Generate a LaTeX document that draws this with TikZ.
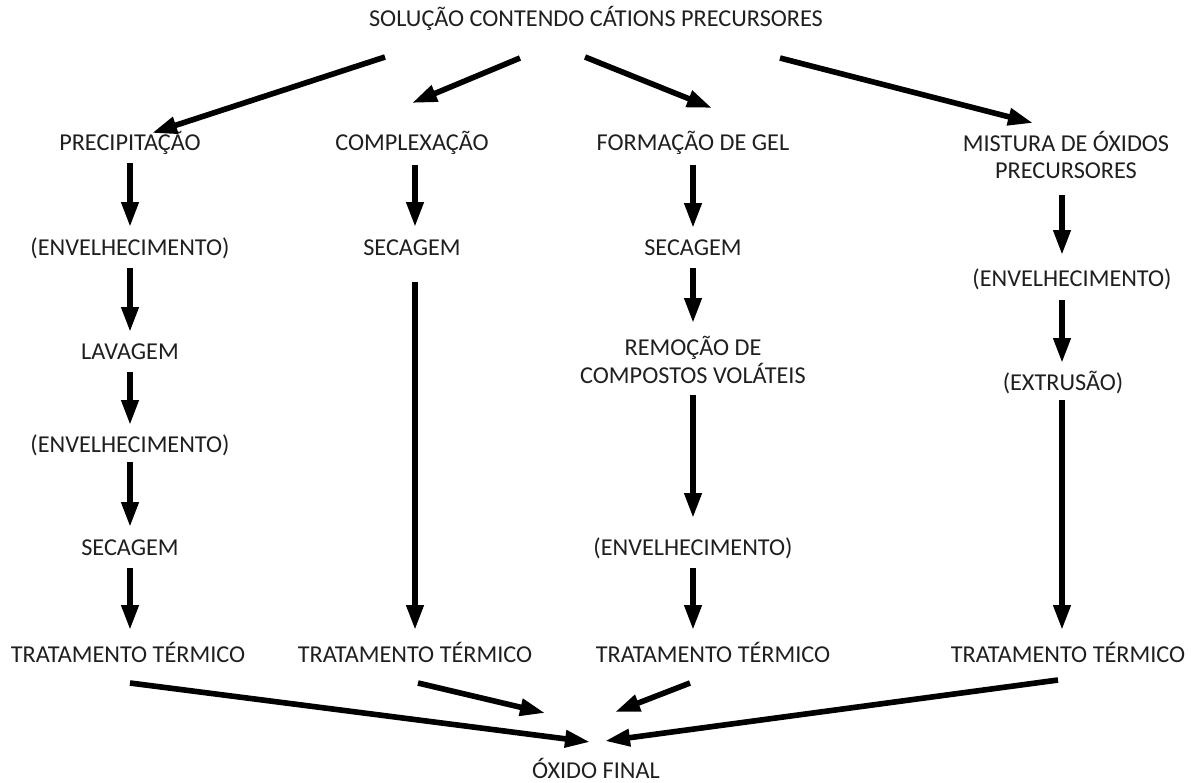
\documentclass[tikz,border=0pt]{standalone}
\usepackage{fontspec}
\setmainfont{Carlito}
\usetikzlibrary{arrows.meta, calc}

\begin{document}
\begin{tikzpicture}[
    x=0.02cm, y=-0.02cm,
    txt/.style={font=\fontsize{13.8}{15.8}\selectfont, text=black!88, inner sep=0pt, align=center},
    ar/.style={-{Triangle[length=5mm, width=3.3mm]}, line width=3.2pt}
  ]
  \useasboundingbox (0,0) rectangle (1191,782);

  % start and end
  \node[txt] (sol) at (596,18)  {SOLUÇÃO CONTENDO CÁTIONS PRECURSORES};
  \node[txt] (oxi) at (596,768) {ÓXIDO FINAL};

  % precipitation route
  \node[txt] (prec)  at (130,143) {PRECIPITAÇÃO};
  \node[txt] (env1a) at (130,248) {(ENVELHECIMENTO)};
  \node[txt] (lav)   at (130,352) {LAVAGEM};
  \node[txt] (env1b) at (130,445) {(ENVELHECIMENTO)};
  \node[txt] (sec1)  at (130,548) {SECAGEM};
  \node[txt] (tt1)   at (128,652) {TRATAMENTO TÉRMICO};

  % complexation route
  \node[txt] (comp) at (412,143) {COMPLEXAÇÃO};
  \node[txt] (sec2) at (412,248) {SECAGEM};
  \node[txt] (tt2)  at (415,652) {TRATAMENTO TÉRMICO};

  % gel route
  \node[txt] (gel)  at (693,143) {FORMAÇÃO DE GEL};
  \node[txt] (sec3) at (693,248) {SECAGEM};
  \node[txt] (rem)  at (693,360) {REMOÇÃO DE\\COMPOSTOS VOLÁTEIS};
  \node[txt] (env3) at (693,548) {(ENVELHECIMENTO)};
  \node[txt] (tt3)  at (713,652) {TRATAMENTO TÉRMICO};

  % oxide mixture route
  \node[txt] (mist) at (1066,155) {MISTURA DE ÓXIDOS\\PRECURSORES};
  \node[txt] (env4) at (1072,279) {(ENVELHECIMENTO)};
  \node[txt] (ext)  at (1063,383) {(EXTRUSÃO)};
  \node[txt] (tt4)  at (1068,652) {TRATAMENTO TÉRMICO};

  % branches from the solution
  \foreach \n/\sx/\sy/\ex/\ey in {prec/-211/39/22/-10, comp/-76/40/0/-40,
      gel/-11/39/19/-35, mist/184/40/-33/-32}
    {\draw[ar] ($(sol)+(\sx,\sy)$) -- ($(\n)+(\ex,\ey)$);}

  % steps down each route
  \foreach \a/\b/\dx/\s/\e in {prec/env1a/0/20/21, env1a/lav/0/20/20, lav/env1b/0/20/20,
      env1b/sec1/0/17/21, sec1/tt1/0/20/22,
      comp/sec2/3/22/21, sec2/tt2/3/34/22,
      gel/sec3/0/22/20, sec3/rem/0/20/37, rem/env3/0/35/30, env3/tt3/0/20/22,
      mist/env4/-4/40/24, env4/ext/-10/21/20, ext/tt4/-1/17/22}
    {\draw[ar] ($(\a)+(\dx,\s)$) -- ($(\a |- \b)+(\dx,-\e)$);}

  % into the final oxide
  \foreach \n/\sx/\sy/\ex/\ey in {tt1/2/31/-6/-26, tt2/3/31/-51/-55,
      tt3/-23/31/19/-56, tt4/-10/28/9/-27}
    {\draw[ar] ($(\n)+(\sx,\sy)$) -- ($(oxi)+(\ex,\ey)$);}
\end{tikzpicture}
\end{document}
